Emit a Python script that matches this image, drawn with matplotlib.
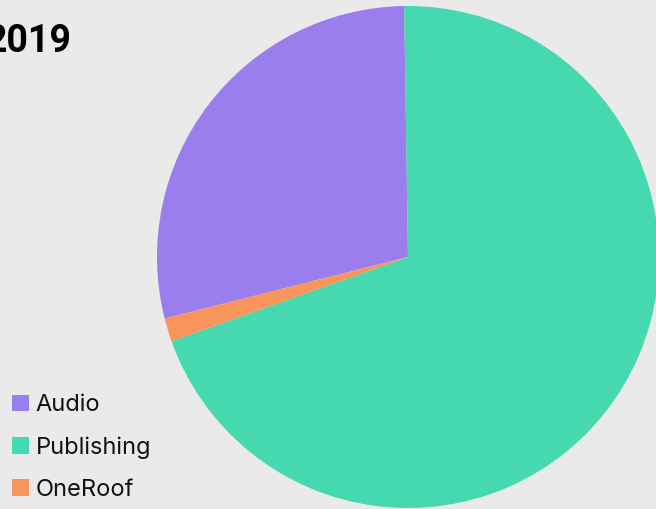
import matplotlib.pyplot as plt

plt.rcParams['font.family'] = ['Inter', 'DejaVu Sans']

labels = ['Audio', 'Publishing', 'OneRoof']
shares = [28.7, 69.8, 1.5]
colors = ['#9a7eee', '#46d8ae', '#f9955c']
title = '2019'

W, H = 656, 509
fig = plt.figure(figsize=(W / 100, H / 100), dpi=100, facecolor='#eaeaea')
ax = fig.add_axes([0, 0, 1, 1])
ax.set_facecolor('#eaeaea')

# pixel-ish coordinates, y up
wedges, _ = ax.pie(shares, colors=colors, startangle=194.2, counterclock=False,
                   center=(408, H - 257), radius=251,
                   wedgeprops=dict(linewidth=0), frame=False)
ax.set_xlim(0, W)
ax.set_ylim(0, H)
ax.set_aspect('equal')
ax.axis('off')

fig.text(-14 / W, 1 - 41 / H, title, fontsize=27, fontweight='bold',
         va='center', ha='left', color='black', family=['Roboto', 'DejaVu Sans'])

leg = ax.legend(wedges, labels, loc='lower left', bbox_to_anchor=(5 / W, 1 / H),
                frameon=False, fontsize=17, handlelength=0.7, handleheight=0.7,
                handletextpad=0.3, labelspacing=0.85, borderpad=0.3,
                borderaxespad=0)
for t in leg.get_texts():
    t.set_color('#111111')

fig.savefig('out.png', dpi=100, facecolor=fig.get_facecolor())
